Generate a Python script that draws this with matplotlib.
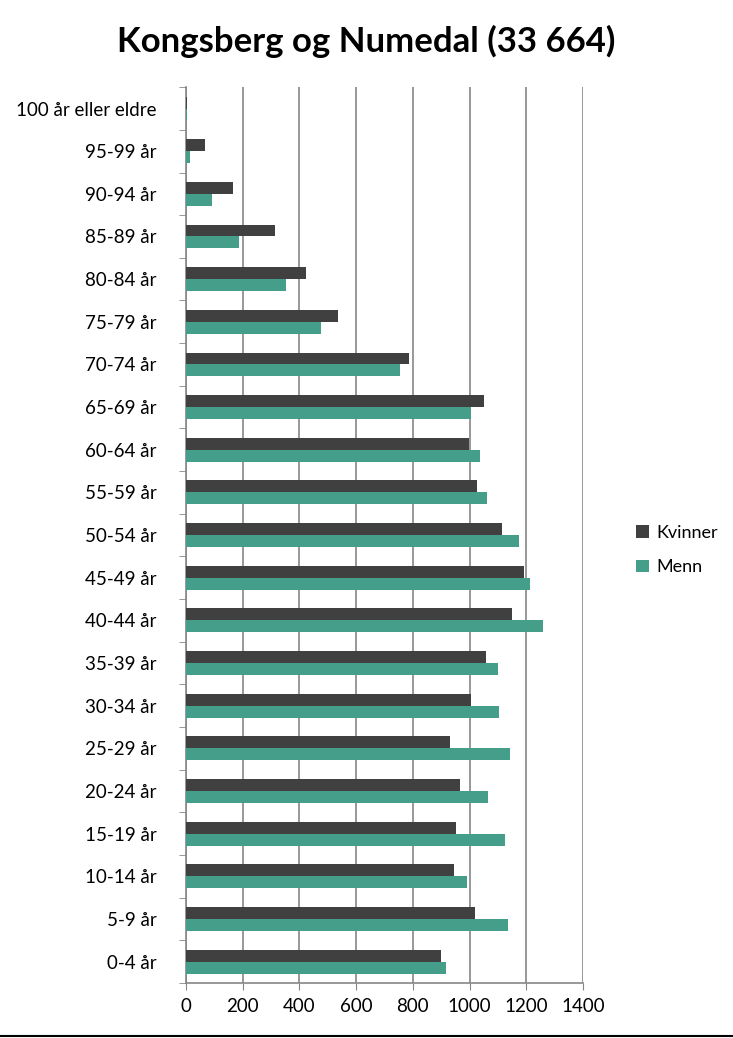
import numpy as np
import matplotlib.pyplot as plt
from matplotlib.lines import Line2D

# --- data ---
aldersgrupper = ['0-4 år', '5-9 år', '10-14 år', '15-19 år', '20-24 år', '25-29 år',
                 '30-34 år', '35-39 år', '40-44 år', '45-49 år', '50-54 år', '55-59 år',
                 '60-64 år', '65-69 år', '70-74 år', '75-79 år', '80-84 år', '85-89 år',
                 '90-94 år', '95-99 år', '100 år eller eldre']
kvinner = [898, 1018, 944, 951, 965, 930, 1004, 1057, 1149, 1191, 1113, 1025,
           997, 1050, 785, 537, 424, 315, 166, 67, 5]
menn = [916, 1135, 990, 1124, 1064, 1142, 1103, 1099, 1258, 1212, 1174, 1060,
        1036, 1004, 756, 477, 353, 187, 92, 14, 2]
xticks = [0, 200, 400, 600, 800, 1000, 1200, 1400]

FONT = ['Lato', 'DejaVu Sans']
plt.rcParams['font.family'] = FONT

C_K = '#404040'
C_M = '#449E8A'

fig = plt.figure(figsize=(7.33, 10.38), dpi=100)
ax = fig.add_axes([0.2538, 0.053, 0.5416, 0.863])

y = np.arange(len(aldersgrupper))
h = 0.28
ax.barh(y + h / 2, kvinner, height=h, color=C_K, label='Kvinner', zorder=3)
ax.barh(y - h / 2, menn, height=h, color=C_M, label='Menn', zorder=3)

ax.set_ylim(-0.5, len(aldersgrupper) - 0.5)
ax.set_xlim(0, 1400)
ax.set_xticks(xticks)
ax.set_yticks(y)
ax.set_yticklabels(aldersgrupper, fontsize=13.5)
ax.tick_params(axis='y', length=0, pad=21)
ax.tick_params(axis='x', length=5, color='#868686', labelsize=13.5, pad=6)

# category boundary ticks on the y axis
ax.set_yticks(np.arange(-0.5, len(aldersgrupper)), minor=True)
ax.tick_params(axis='y', which='minor', length=5, color='#868686')

ax.grid(axis='x', color='#868686', linewidth=1.2, zorder=0)
for s in ['top', 'right']:
    ax.spines[s].set_visible(False)
for s in ['left', 'bottom']:
    ax.spines[s].set_color('#868686')
    ax.spines[s].set_linewidth(1.2)

fig.text(0.5, 0.96, 'Kongsberg og Numedal (33 664)', ha='center', va='center',
         fontsize=25, fontweight='bold')

fig.legend(loc='center left', bbox_to_anchor=(0.846, 0.47), frameon=False,
           fontsize=13, handlelength=0.7, handleheight=0.7, handletextpad=0.4,
           labelspacing=1.0)

# bottom border line of the chart
fig.add_artist(Line2D([0, 1], [0.0015, 0.0015], color='black', linewidth=1.5,
                      transform=fig.transFigure))

plt.savefig('out.png', dpi=100)
